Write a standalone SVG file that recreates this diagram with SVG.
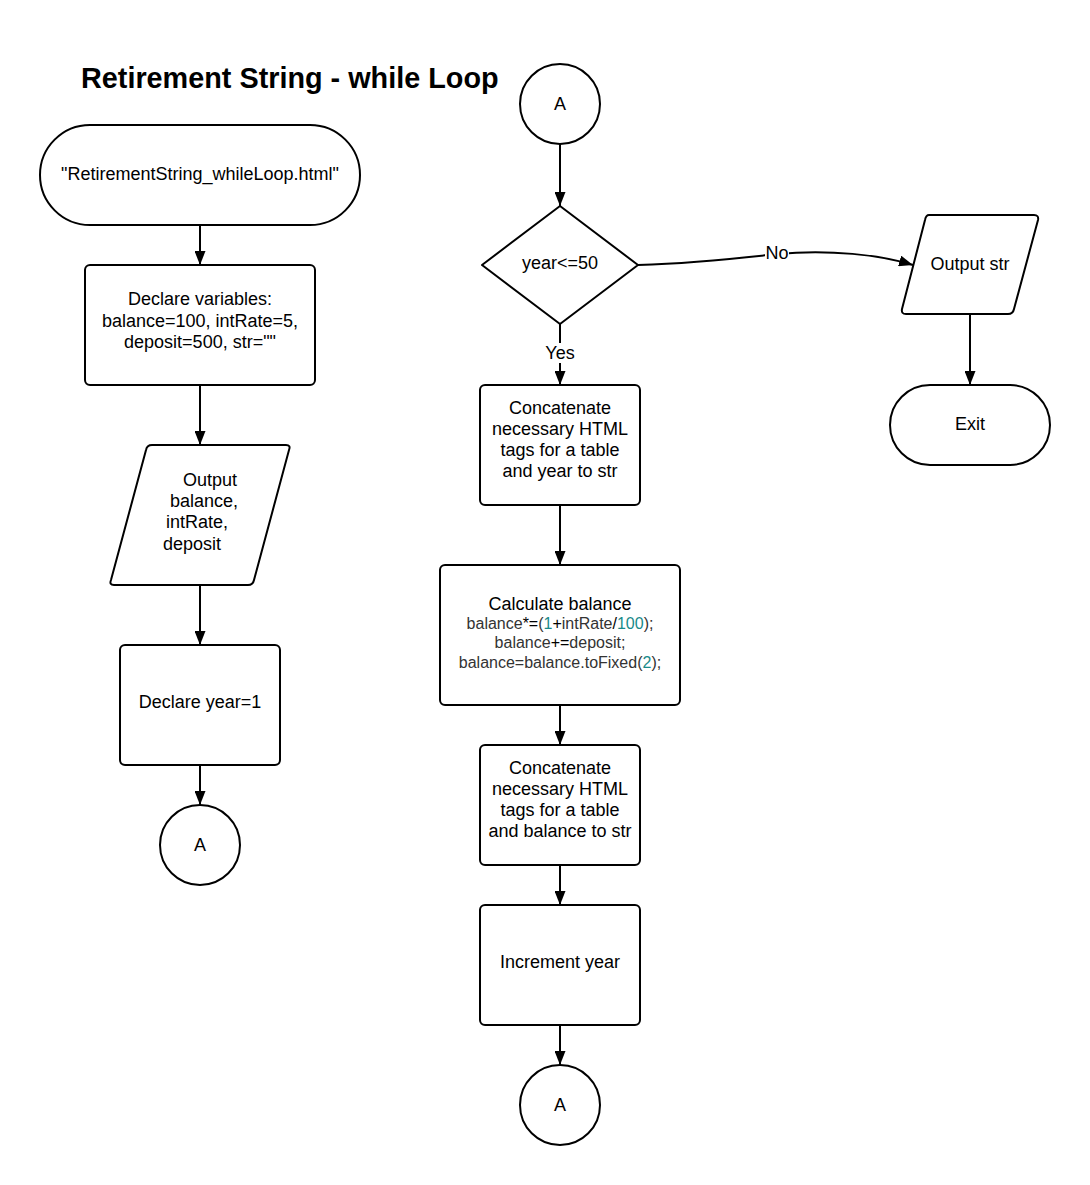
<svg xmlns="http://www.w3.org/2000/svg" width="1090" height="1185" viewBox="0 0 1090 1185">
<style>
.s{fill:#fff;stroke:#000;stroke-width:2}
.t{font-family:"Liberation Sans",Arial,sans-serif;font-size:18px;fill:#000;text-anchor:middle}
.l{font-family:"Liberation Sans",Arial,sans-serif;font-size:18px;fill:#000;text-anchor:start}
.c{font-family:"Liberation Sans",Arial,sans-serif;font-size:16px;fill:#333;text-anchor:middle}
.n{fill:#188a8a}
.e{fill:none;stroke:#000;stroke-width:2}
</style>
<defs>
<marker id="ah" viewBox="0 0 14 11" refX="14" refY="5.5" markerWidth="14" markerHeight="11" markerUnits="userSpaceOnUse" orient="auto">
<path d="M0,0 L14,5.5 L0,11 Z" fill="#000"/>
</marker>
</defs>
<rect width="1090" height="1185" fill="#fff"/>
<text x="81" y="88" font-family="Liberation Sans,Arial,sans-serif" font-weight="bold" font-size="28.8" fill="#000">Retirement String - while Loop</text>

<g id="connectors">
<line class="e" x1="200" y1="225" x2="200" y2="265" marker-end="url(#ah)"/>
<line class="e" x1="200" y1="385" x2="200" y2="445" marker-end="url(#ah)"/>
<line class="e" x1="200" y1="585" x2="200" y2="645" marker-end="url(#ah)"/>
<line class="e" x1="200" y1="765" x2="200" y2="805" marker-end="url(#ah)"/>
<line class="e" x1="560" y1="144" x2="560" y2="206" marker-end="url(#ah)"/>
<line class="e" x1="560" y1="324" x2="560" y2="385" marker-end="url(#ah)"/>
<line class="e" x1="560" y1="505" x2="560" y2="565" marker-end="url(#ah)"/>
<line class="e" x1="560" y1="705" x2="560" y2="745" marker-end="url(#ah)"/>
<line class="e" x1="560" y1="865" x2="560" y2="905" marker-end="url(#ah)"/>
<line class="e" x1="560" y1="1025" x2="560" y2="1065" marker-end="url(#ah)"/>
<path class="e" d="M638,265 C700,263 740,258 777,254 C830,249 880,255 913,265" marker-end="url(#ah)"/>
<line class="e" x1="970" y1="314" x2="970" y2="385" marker-end="url(#ah)"/>
<rect x="543" y="343" width="34" height="20" fill="#fff"/>
<text class="t" x="560" y="359" font-size="17">Yes</text>
<rect x="765" y="244" width="24" height="20" fill="#fff"/>
<text class="t" x="777" y="259" font-size="17">No</text>
</g>

<g id="start">
<rect class="s" x="40" y="125" width="320" height="100" rx="50"/>
<text class="t" x="200" y="180">"RetirementString_whileLoop.html"</text>
</g>
<g id="declare-vars">
<rect class="s" x="85" y="265" width="230" height="120" rx="5"/>
<text class="t" x="200" y="305">Declare variables:</text>
<text class="t" x="200" y="327">balance=100, intRate=5,</text>
<text class="t" x="200" y="348">deposit=500, str=""</text>
</g>
<g id="output-vars">
<path class="s" d="M152,445 L286,445 Q291,445 289,450 L254,580 Q253,585 248,585 L114,585 Q109,585 111,580 L146,450 Q147,445 152,445 Z"/>
<text class="l" x="183" y="486">Output</text>
<text class="l" x="170" y="507">balance,</text>
<text class="l" x="166" y="528">intRate,</text>
<text class="l" x="163" y="550">deposit</text>
</g>
<g id="declare-year">
<rect class="s" x="120" y="645" width="160" height="120" rx="5"/>
<text class="t" x="200" y="708">Declare year=1</text>
</g>
<g id="connector-a-left">
<circle class="s" cx="200" cy="845" r="40"/>
<text class="t" x="200" y="851" font-size="17">A</text>
</g>

<g id="connector-a-top">
<circle class="s" cx="560" cy="104" r="40"/>
<text class="t" x="560" y="110" font-size="17">A</text>
</g>
<g id="decision">
<path class="s" d="M560,206 L638,265 L560,324 L482,265 Z" stroke-linejoin="round"/>
<text class="t" x="560" y="269">year&lt;=50</text>
</g>
<g id="concat-year">
<rect class="s" x="480" y="385" width="160" height="120" rx="5"/>
<text class="t" x="560" y="414">Concatenate</text>
<text class="t" x="560" y="435">necessary HTML</text>
<text class="t" x="560" y="456">tags for a table</text>
<text class="t" x="560" y="477">and year to str</text>
</g>
<g id="calc-balance">
<rect class="s" x="440" y="565" width="240" height="140" rx="5"/>
<text class="t" x="560" y="610">Calculate balance</text>
<text class="c" x="560" y="629">balance<tspan fill="#000">*=</tspan>(<tspan class="n">1</tspan><tspan fill="#000">+</tspan>intRate<tspan fill="#000">/</tspan><tspan class="n">100</tspan>);</text>
<text class="c" x="560" y="648">balance<tspan fill="#000">+=</tspan>deposit;</text>
<text class="c" x="560" y="668">balance=balance.toFixed(<tspan class="n">2</tspan>);</text>
</g>
<g id="concat-balance">
<rect class="s" x="480" y="745" width="160" height="120" rx="5"/>
<text class="t" x="560" y="774">Concatenate</text>
<text class="t" x="560" y="795">necessary HTML</text>
<text class="t" x="560" y="816">tags for a table</text>
<text class="t" x="560" y="837">and balance to str</text>
</g>
<g id="increment-year">
<rect class="s" x="480" y="905" width="160" height="120" rx="5"/>
<text class="t" x="560" y="968">Increment year</text>
</g>
<g id="connector-a-bottom">
<circle class="s" cx="560" cy="1105" r="40"/>
<text class="t" x="560" y="1111" font-size="17">A</text>
</g>

<g id="output-str">
<path class="s" d="M929,215 L1034,215 Q1039,215 1038,220 L1014,309 Q1013,314 1008,314 L906,314 Q901,314 902,309 L925,220 Q926,215 929,215 Z"/>
<text class="t" x="970" y="270">Output str</text>
</g>
<g id="exit">
<rect class="s" x="890" y="385" width="160" height="80" rx="40"/>
<text class="t" x="970" y="430">Exit</text>
</g>
</svg>
